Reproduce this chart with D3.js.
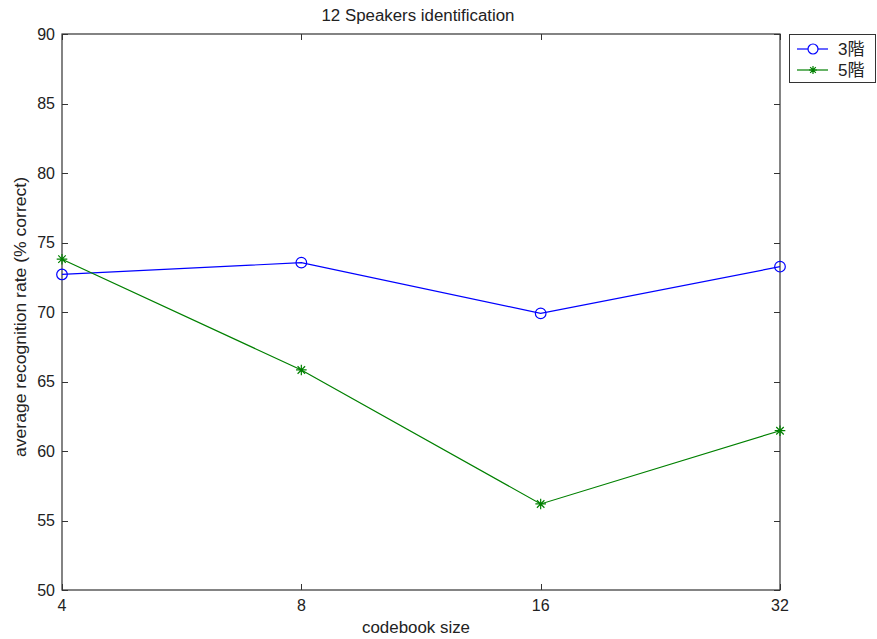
<!DOCTYPE html>
<html><head><meta charset="utf-8">
<script src="https://cdn.jsdelivr.net/npm/d3@7"></script>
<style>
body{margin:0;background:#fff;}
svg{display:block;font-family:"Liberation Sans",Arial,sans-serif;}
</style></head>
<body>
<svg id="chart" width="877" height="639"></svg>
<script>
const codebookSizes = [4, 8, 16, 32];
const series3 = [72.7, 73.55, 69.9, 73.26];
const series5 = [73.8, 65.83, 56.19, 61.46];
const seriesNames = ["3階", "5階"];
const seriesColors = ["#0000ff", "#008000"];
const yTicks = [50, 55, 60, 65, 70, 75, 80, 85, 90];
const titleText = "12 Speakers identification";
const xLabelText = "codebook size";
const yLabelText = "average recognition rate (% correct)";

const svg = d3.select("#chart");
const L = 62, R = 780, T = 34, B = 590;
const x = d3.scaleLog().base(2).domain([4, 32]).range([L, R]);
const y = d3.scaleLinear().domain([50, 90]).range([B, T]);
const axisColor = "#333";
const tl = 6;

// box
svg.append("rect").attr("x", L).attr("y", T).attr("width", R - L).attr("height", B - T)
  .attr("fill", "none").attr("stroke", axisColor).attr("stroke-width", 1.2);

// y ticks left & right
const gy = svg.append("g");
yTicks.forEach(v => {
  const yy = Math.round(y(v)) + 0.5;
  gy.append("line").attr("x1", L).attr("x2", L + tl).attr("y1", yy).attr("y2", yy).attr("stroke", axisColor);
  gy.append("line").attr("x1", R - tl).attr("x2", R).attr("y1", yy).attr("y2", yy).attr("stroke", axisColor);
  gy.append("text").attr("x", 55).attr("y", y(v)).attr("dy", "0.36em").attr("text-anchor", "end")
    .attr("font-size", 16).attr("fill", "#222").text(v);
});
// x ticks
const gx = svg.append("g");
codebookSizes.forEach(v => {
  const xx = Math.round(x(v)) + 0.5;
  gx.append("line").attr("x1", xx).attr("x2", xx).attr("y1", B).attr("y2", B - tl).attr("stroke", axisColor);
  gx.append("line").attr("x1", xx).attr("x2", xx).attr("y1", T).attr("y2", T + tl).attr("stroke", axisColor);
  gx.append("text").attr("x", x(v)).attr("y", 611).attr("text-anchor", "middle")
    .attr("font-size", 16).attr("fill", "#222").text(v);
});

// title & labels
svg.append("text").attr("x", 418).attr("y", 21).attr("text-anchor", "middle").attr("font-size", 16)
  .attr("fill", "#222").attr("textLength", 193).attr("lengthAdjust", "spacingAndGlyphs").text(titleText);
svg.append("text").attr("x", 416).attr("y", 633).attr("text-anchor", "middle").attr("font-size", 16)
  .attr("fill", "#222").attr("textLength", 108).attr("lengthAdjust", "spacingAndGlyphs").text(xLabelText);
svg.append("text").attr("transform", "translate(26,317) rotate(-90)").attr("text-anchor", "middle").attr("font-size", 16)
  .attr("fill", "#222").attr("textLength", 280).attr("lengthAdjust", "spacingAndGlyphs").text(yLabelText);

const line = d3.line().x(d => x(d[0])).y(d => y(d[1]));
const data3 = codebookSizes.map((c, i) => [c, series3[i]]);
const data5 = codebookSizes.map((c, i) => [c, series5[i]]);

function starPath(cx, cy, r) {
  const d = r * 0.7071;
  return `M${cx - r},${cy}L${cx + r},${cy}M${cx},${cy - r}L${cx},${cy + r}` +
    `M${cx - d},${cy - d}L${cx + d},${cy + d}M${cx - d},${cy + d}L${cx + d},${cy - d}`;
}

svg.append("path").datum(data3).attr("d", line).attr("fill", "none").attr("stroke", seriesColors[0]).attr("stroke-width", 1.2);
svg.append("path").datum(data5).attr("d", line).attr("fill", "none").attr("stroke", seriesColors[1]).attr("stroke-width", 1.2);

svg.selectAll("circle.m3").data(data3).enter().append("circle")
  .attr("cx", d => x(d[0])).attr("cy", d => y(d[1])).attr("r", 5.3)
  .attr("fill", "none").attr("stroke", seriesColors[0]).attr("stroke-width", 1.2);
svg.selectAll("path.m5").data(data5).enter().append("path")
  .attr("d", d => starPath(x(d[0]), y(d[1]), 5.3))
  .attr("stroke", seriesColors[1]).attr("stroke-width", 1.2);

// legend
const lg = svg.append("g");
lg.append("rect").attr("x", 789.5).attr("y", 34.5).attr("width", 86).attr("height", 48)
  .attr("fill", "#fff").attr("stroke", axisColor);
const ly = [49, 70];
seriesNames.forEach((n, i) => {
  lg.append("line").attr("x1", 797).attr("x2", 828).attr("y1", ly[i]).attr("y2", ly[i]).attr("stroke", seriesColors[i]).attr("stroke-width", 1.2);
  if (i === 0) lg.append("circle").attr("cx", 813).attr("cy", ly[i]).attr("r", 5).attr("fill", "#fff").attr("stroke", seriesColors[i]).attr("stroke-width", 1.2);
  else lg.append("path").attr("d", starPath(813, ly[i], 4)).attr("stroke", seriesColors[i]).attr("stroke-width", 1.2);
  lg.append("text").attr("x", 838).attr("y", ly[i]).attr("dy", "0.38em").attr("font-size", 17)
    .attr("font-family", "'Liberation Sans','Noto Sans CJK JP',sans-serif").attr("fill", "#222").text(n);
});
</script>
</body></html>
